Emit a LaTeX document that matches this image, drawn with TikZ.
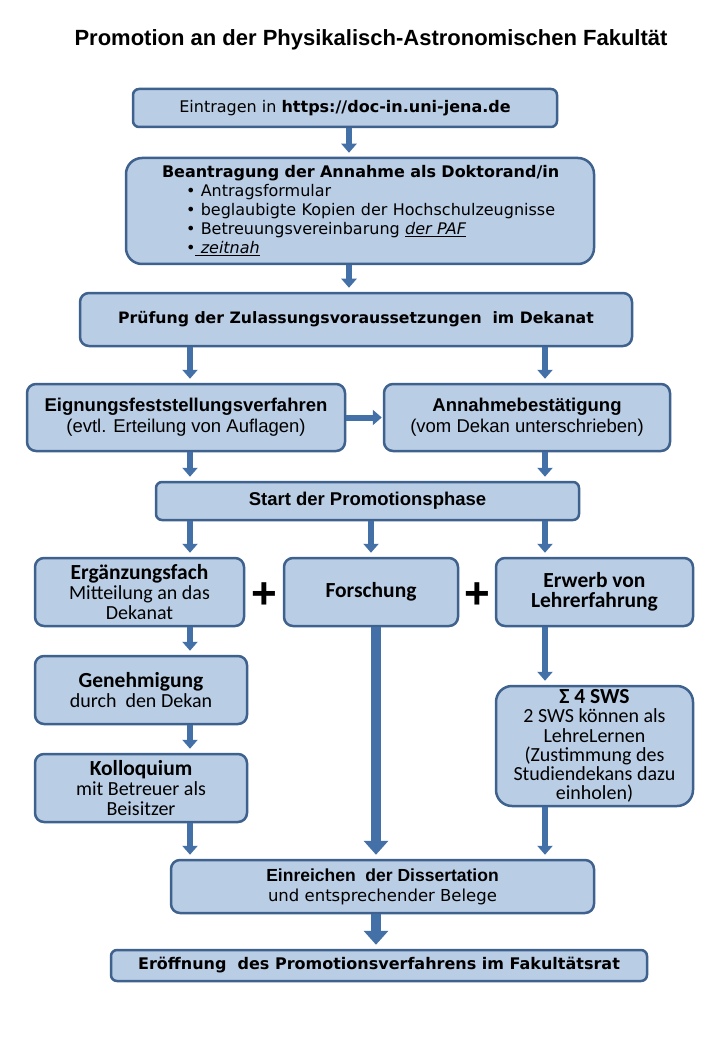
\documentclass[tikz,border=0pt]{standalone}
\usepackage{fontspec}
\setmainfont{DejaVu Sans}
\newfontfamily\calfont{Carlito}
\newfontfamily\tahfont{Liberation Sans}
\usetikzlibrary{arrows.meta}
\definecolor{boxfill}{HTML}{B9CDE5}
\definecolor{boxline}{HTML}{3E618E}
\definecolor{arrowc}{HTML}{4470A8}
\newcommand{\myverd}{\fontsize{16}{19}\selectfont}
\newcommand{\mycal}{\calfont\fontsize{20}{20}\selectfont}
\newcommand{\mycalb}{\fontsize{21.5}{20}\selectfont\bfseries}
\newcommand{\mytah}{\tahfont\fontsize{18.5}{21}\selectfont}
\begin{document}
\begin{tikzpicture}[x=1pt,y=-1pt,
  box/.style={draw=boxline, fill=boxfill, line width=2.5pt, rounded corners=9pt, inner sep=0pt, align=center},
  arr/.style={draw=arrowc, line width=6pt, -{Triangle[width=15pt,length=9pt]}, shorten >=4pt},
  bigarr/.style={draw=arrowc, line width=10pt, -{Triangle[width=24pt,length=14pt]}, shorten >=4pt},
  plus/.style={font=\tahfont\bfseries\fontsize{44}{44}\selectfont, inner sep=0pt}]
\useasboundingbox[fill=white] (0,0) rectangle (720,1040);

\node[font=\tahfont\bfseries\fontsize{22}{24}\selectfont] (title) at (371,40) {Promotion an der Physikalisch-Astronomischen Fakultät};

\node[box, rounded corners=6pt, minimum width=424pt, minimum height=38pt, font=\myverd] (ein) at (345,108) {Eintragen in \textbf{https://doc-in.uni-jena.de}};

\node[box, rounded corners=16pt, minimum width=468pt, minimum height=106pt, text width=468pt, align=left, font=\myverd] (bea) at (360,211)
 {\hspace*{36pt}\textbf{Beantragung der Annahme als Doktorand/in}\\
  \hspace*{60pt}• Antragsformular\\
  \hspace*{60pt}• beglaubigte Kopien der Hochschulzeugnisse\\
  \hspace*{60pt}• Betreuungsvereinbarung \underline{\textit{der PAF}}\\
  \hspace*{60pt}•\underline{\textit{ zeitnah}}};

\node[box, minimum width=552pt, minimum height=53pt, font=\fontsize{15.7}{19}\selectfont] (pru) at (356,319.5) {\textbf{Prüfung der Zulassungsvoraussetzungen\ \ im Dekanat}};

\node[box, minimum width=318pt, minimum height=67pt, font=\mytah] (eig) at (186,417.5) {\textbf{Eignungsfeststellungsverfahren}\\(evtl. Erteilung von Auflagen)};
\node[box, minimum width=286pt, minimum height=67pt, font=\mytah] (ann) at (527,417.5) {\textbf{Annahmebestätigung}\\(vom Dekan unterschrieben)};

\node[box, rounded corners=6pt, minimum width=423pt, minimum height=38pt, font=\mytah] (sta) at (367.5,501) {\textbf{Start der Promotionsphase}};

\node[box, minimum width=209pt, minimum height=68pt, font=\mycal] (erg) at (139.5,592) {{\mycalb Ergänzungsfach}\\Mitteilung an das\\Dekanat};
\node[box, minimum width=174pt, minimum height=68pt, font=\mycal] (for) at (371,592) {{\mycalb Forschung}};
\node[box, minimum width=197pt, minimum height=68pt, font=\mycal] (erw) at (594.5,592) {{\mycalb Erwerb von}\\{\mycalb Lehrerfahrung}};

\node[plus] (p1) at (264,596) {+};
\node[plus] (p2) at (477,596) {+};

\node[box, minimum width=212pt, minimum height=68pt, font=\mycal] (gen) at (141,690) {{\mycalb Genehmigung}\\durch\ \ den Dekan};
\node[box, minimum width=212pt, minimum height=68pt, font=\mycal] (kol) at (141,788) {{\mycalb Kolloquium}\\mit Betreuer als\\Beisitzer};

\node[box, rounded corners=16pt, minimum width=197pt, minimum height=120pt, font=\calfont\fontsize{20}{19.3}\selectfont] (sws) at (594.5,746) {{\fontsize{21.5}{19.3}\selectfont\bfseries Σ 4 SWS}\\2 SWS können als\\LehreLernen\\(Zustimmung des\\Studiendekans dazu\\einholen)};

\node[box, minimum width=423pt, minimum height=53pt, font=\fontsize{16.5}{20}\selectfont] (einr) at (382.5,886.5) {{\tahfont\fontsize{17.5}{20}\selectfont\textbf{Einreichen\ \ der Dissertation}}\\und entsprechender Belege};

\node[box, rounded corners=6pt, minimum width=536pt, minimum height=31pt, font=\myverd] (erof) at (379,965.5) {\textbf{Eröffnung\ \ des Promotionsverfahrens im Fakultätsrat}};

\coordinate (cL) at (190,0);
\coordinate (cM) at (371,0);
\coordinate (cR) at (545,0);
\coordinate (cC) at (349,0);
\coordinate (cB) at (376,0);

\draw[arr] (ein.south -| cC) -- (bea.north -| cC);
\draw[arr] (bea.south -| cC) -- (pru.north -| cC);
\draw[arr] (pru.south -| cL) -- (eig.north -| cL);
\draw[arr] (pru.south -| cR) -- (ann.north -| cR);
\draw[arr, shorten >=1pt] (eig.east) -- (ann.west);
\draw[arr] (eig.south -| cL) -- (sta.north -| cL);
\draw[arr] (ann.south -| cR) -- (sta.north -| cR);
\draw[arr] (sta.south -| cL) -- (erg.north -| cL);
\draw[arr] (sta.south -| cM) -- (for.north -| cM);
\draw[arr] (sta.south -| cR) -- (erw.north -| cR);
\draw[arr] (erg.south -| cL) -- (gen.north -| cL);
\draw[arr] (gen.south -| cL) -- (kol.north -| cL);
\draw[arr] (kol.south -| cL) -- (einr.north -| cL);
\draw[bigarr] (for.south -| cB) -- (einr.north -| cB);
\draw[arr] (erw.south -| cR) -- (sws.north -| cR);
\draw[arr] (sws.south -| cR) -- (einr.north -| cR);
\draw[bigarr] (einr.south -| cB) -- (erof.north -| cB);
\end{tikzpicture}
\end{document}
